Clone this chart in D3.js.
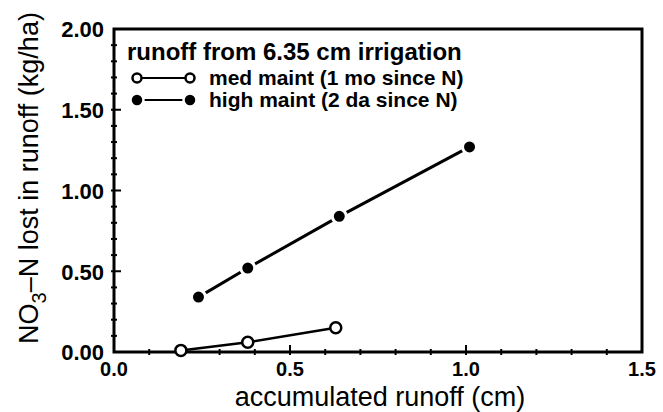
<!DOCTYPE html>
<html>
<head>
<meta charset="utf-8">
<script src="https://cdn.jsdelivr.net/npm/d3@7"></script>
<style>
  body { margin: 0; background: #fff; }
  text { font-family: "Liberation Sans", Arial, sans-serif; font-weight: bold; fill: #000; }
</style>
</head>
<body>
<div id="chart"></div>
<script>
// accumulated runoff (cm) vs NO3-N lost (kg/ha)
var medX = [0.19, 0.38, 0.63];
var medY = [0.01, 0.06, 0.15];
var highX = [0.24, 0.38, 0.64, 1.01];
var highY = [0.34, 0.52, 0.84, 1.27];

var xTicks = [0, 0.5, 1.0, 1.5];
var yTicks = [0, 0.5, 1.0, 1.5, 2.0];
var legendTitle = "runoff from 6.35 cm irrigation";
var legendNames = ["med maint (1 mo since N)", "high maint (2 da since N)"];

var W = 663, H = 412;
var margin = {top: 29, right: 21, bottom: 60, left: 114};
var w = W - margin.left - margin.right,
    h = H - margin.top - margin.bottom;

var svg = d3.select("#chart").append("svg")
    .attr("width", W)
    .attr("height", H);

var g = svg.append("g")
    .attr("transform", "translate(" + margin.left + "," + margin.top + ")");

var x = d3.scaleLinear().domain([0, 1.5]).range([0, w]);
var y = d3.scaleLinear().domain([0, 2]).range([h, 0]);

//frame
g.append("rect")
    .attr("width", w).attr("height", h)
    .style("fill", "none")
    .style("stroke", "#000")
    .style("stroke-width", 3);

//minor ticks every 0.1, major at the labelled values
var xMinor = d3.range(1, 15).map(function(d){ return d / 10; });
var yMinor = d3.range(1, 20).map(function(d){ return d / 10; });

g.selectAll(".xminor")
    .data(xMinor)
    .join("line")
    .attr("x1", function(d){ return x(d); })
    .attr("x2", function(d){ return x(d); })
    .attr("y1", function(d){ return Math.round(d * 10) % 5 === 0 ? h - 7 : h - 3; })
    .attr("y2", h + 3)
    .style("stroke", "#000")
    .style("stroke-width", 2);

g.selectAll(".yminor")
    .data(yMinor)
    .join("line")
    .attr("y1", function(d){ return y(d); })
    .attr("y2", function(d){ return y(d); })
    .attr("x1", -3)
    .attr("x2", function(d){ return Math.round(d * 10) % 5 === 0 ? 7 : 3; })
    .style("stroke", "#000")
    .style("stroke-width", 2);

//tick labels
g.selectAll(".xlab")
    .data(xTicks)
    .join("text")
    .attr("x", function(d){ return x(d); })
    .attr("y", h + 24)
    .attr("text-anchor", "middle")
    .style("font-size", "20px")
    .text(d3.format(".1f"));

g.selectAll(".ylab")
    .data(yTicks)
    .join("text")
    .attr("x", -10)
    .attr("y", function(d){ return y(d); })
    .attr("dy", "0.38em")
    .attr("text-anchor", "end")
    .style("font-size", "22px")
    .text(d3.format(".2f"));

//axis titles
svg.append("text")
    .attr("x", 380)
    .attr("y", 406)
    .attr("text-anchor", "middle")
    .style("font-size", "27px")
    .style("font-weight", "normal")
    .text("accumulated runoff (cm)");

var yt = svg.append("text")
    .attr("transform", "translate(38,178) rotate(-90)")
    .attr("text-anchor", "middle")
    .style("font-size", "27px")
    .style("font-weight", "normal");
yt.append("tspan").text("NO");
yt.append("tspan").attr("dy", 8).style("font-size", "20px").text("3");
yt.append("tspan").attr("dy", -8).text("\u2013N lost in runoff (kg/ha)");

//series lines
var line = d3.line()
    .x(function(d){ return x(d[0]); })
    .y(function(d){ return y(d[1]); });

var medPts = d3.zip(medX, medY),
    highPts = d3.zip(highX, highY);

g.append("path")
    .attr("d", line(medPts))
    .style("fill", "none")
    .style("stroke", "#000")
    .style("stroke-width", 2.5);

g.append("path")
    .attr("d", line(highPts))
    .style("fill", "none")
    .style("stroke", "#000")
    .style("stroke-width", 3);

//markers
g.selectAll(".med")
    .data(medPts)
    .join("circle")
    .attr("cx", function(d){ return x(d[0]); })
    .attr("cy", function(d){ return y(d[1]); })
    .attr("r", 5.5)
    .style("fill", "#fff")
    .style("stroke", "#000")
    .style("stroke-width", 2.5);

g.selectAll(".high")
    .data(highPts)
    .join("circle")
    .attr("cx", function(d){ return x(d[0]); })
    .attr("cy", function(d){ return y(d[1]); })
    .attr("r", 7)
    .style("fill", "#000")
    .style("stroke", "#fff")
    .style("stroke-width", 3);

//legend
var leg = g.append("g").attr("transform", "translate(13,0)");
leg.append("text")
    .attr("x", 0).attr("y", 31)
    .style("font-size", "24px")
    .text(legendTitle);

var rows = leg.selectAll(".row")
    .data(legendNames)
    .join("g")
    .attr("transform", function(d, i){ return "translate(0," + (49 + i * 22) + ")"; });

rows.append("line")
    .attr("x1", 10).attr("x2", 63)
    .style("stroke", "#000")
    .style("stroke-width", 2);

rows.each(function(d, i){
    var r = d3.select(this);
    [10, 63].forEach(function(cx){
        r.append("circle")
            .attr("cx", cx).attr("cy", 0)
            .attr("r", i === 0 ? 4.5 : 6.5)
            .style("fill", i === 0 ? "#fff" : "#000")
            .style("stroke", i === 0 ? "#000" : "#fff")
            .style("stroke-width", 2.5);
    });
});

rows.append("text")
    .attr("x", 82)
    .attr("dy", "0.35em")
    .style("font-size", "21px")
    .text(function(d){ return d; });
</script>
</body>
</html>
